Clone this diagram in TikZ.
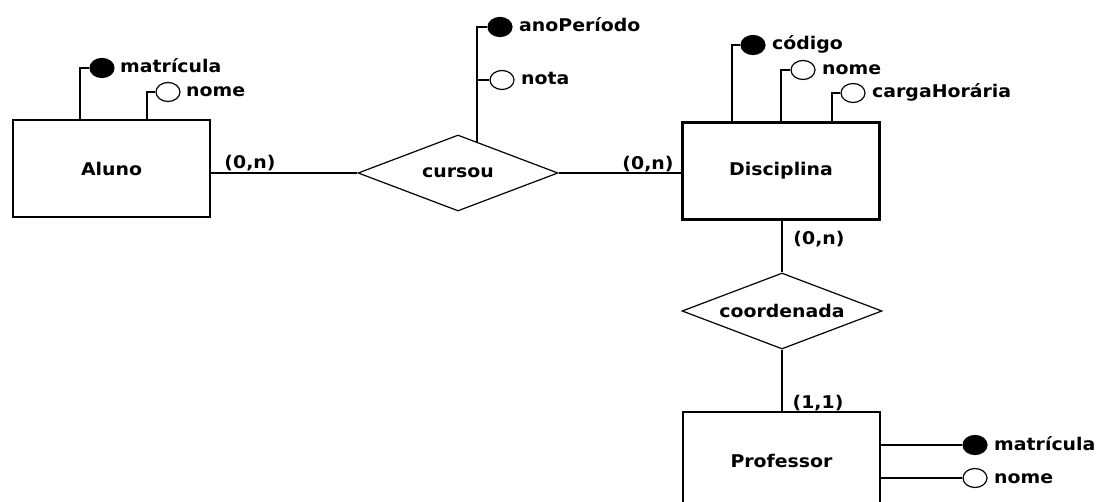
\documentclass[tikz,border=0pt]{standalone}
\usepackage{fontspec}
\setmainfont{DejaVu Sans}[FakeStretch=1.08]
\usetikzlibrary{shapes.geometric,calc}
\begin{document}
\begin{tikzpicture}[x=1pt,y=-1pt,
  txt/.style={font=\bfseries\fontsize{17.5}{20}\selectfont},
  ent/.style={txt, draw, line width=2.2pt, minimum width=197pt, minimum height=97pt, inner sep=0pt},
  rel/.style={txt, draw, diamond, aspect=2.6, line width=1.2pt, minimum width=200pt, minimum height=76pt, inner sep=0pt},
  keyatt/.style={ellipse, draw, line width=1.2pt, fill=black, minimum width=24pt, minimum height=19pt, inner sep=0pt},
  optatt/.style={ellipse, draw, line width=1.2pt, fill=white, minimum width=24pt, minimum height=19pt, inner sep=0pt},
  atxt/.style={txt, anchor=base west, inner sep=0pt},
  card/.style={txt, inner sep=0pt},
  ln/.style={line width=1.8pt}
]
\useasboundingbox (0,0) rectangle (1102,502);
\clip (0,0) rectangle (1102,502);

% entities and relationships
\node[ent] (aluno) at (111.5,168.5) {Aluno};
\node[ent] (disc) at (781,171) {Disciplina};
\node[ent] (prof) at (781.5,460.5) {Professor};
\node[rel] (cursou) at (458,173) {cursou};
\node[rel] (coord) at (782,311) {coordenada};

% Aluno attributes
\node[keyatt] (amat) at (102,68) {};
\node[atxt] (amatT) at (120,73) {matrícula};
\node[optatt] (anom) at (168,92) {};
\node[atxt] (anomT) at (186,97) {nome};
\coordinate (ax1) at (80,0);
\coordinate (ax2) at (147,0);
\draw[ln] (amat.west) -| (aluno.north -| ax1);
\draw[ln] (anom.west) -| (aluno.north -| ax2);

% cursou attributes
\node[keyatt] (cano) at (500,27) {};
\node[atxt] (canoT) at (519,32) {anoPeríodo};
\node[optatt] (cnota) at (502,80) {};
\node[atxt] (cnotaT) at (521,85) {nota};
\coordinate (cbase) at ($(cursou.north)!0.19!(cursou.east)$);
\draw[ln] (cano.west) -| (cbase);
\draw[ln] (cnota.west) -- (cnota.west -| cbase);

% Disciplina attributes
\node[keyatt] (dcod) at (753,45) {};
\node[atxt] (dcodT) at (772,50) {código};
\node[optatt] (dnom) at (803,70) {};
\node[atxt] (dnomT) at (822,75) {nome};
\node[optatt] (dcar) at (853,93) {};
\node[atxt] (dcarT) at (872,98) {cargaHorária};
\coordinate (dx1) at (732,0);
\coordinate (dx2) at (781,0);
\coordinate (dx3) at (832,0);
\draw[ln] (dcod.west) -| (disc.north -| dx1);
\draw[ln] (dnom.west) -| (disc.north -| dx2);
\draw[ln] (dcar.west) -| (disc.north -| dx3);

% Professor attributes
\node[keyatt] (pmat) at (975,445) {};
\node[atxt] (pmatT) at (994,450) {matrícula};
\node[optatt] (pnom) at (975,478) {};
\node[atxt] (pnomT) at (994,483) {nome};
\draw[ln] (prof.east |- pmat.west) -- (pmat.west);
\draw[ln] (prof.east |- pnom.west) -- (pnom.west);

% relationship connectors
\draw[ln] (aluno.east |- cursou.west) -- (cursou.west);
\draw[ln] (cursou.east) -- (disc.west |- cursou.east);
\draw[ln] (coord.north |- disc.south) -- (coord.north);
\draw[ln] (coord.south) -- (coord.south |- prof.north);

% cardinalities
\node[card] (c1) at (250,163) {(0,n)};
\node[card] (c2) at (648,164) {(0,n)};
\node[card] (c3) at (819,239) {(0,n)};
\node[card] (c4) at (818,403) {(1,1)};
\end{tikzpicture}
\end{document}
